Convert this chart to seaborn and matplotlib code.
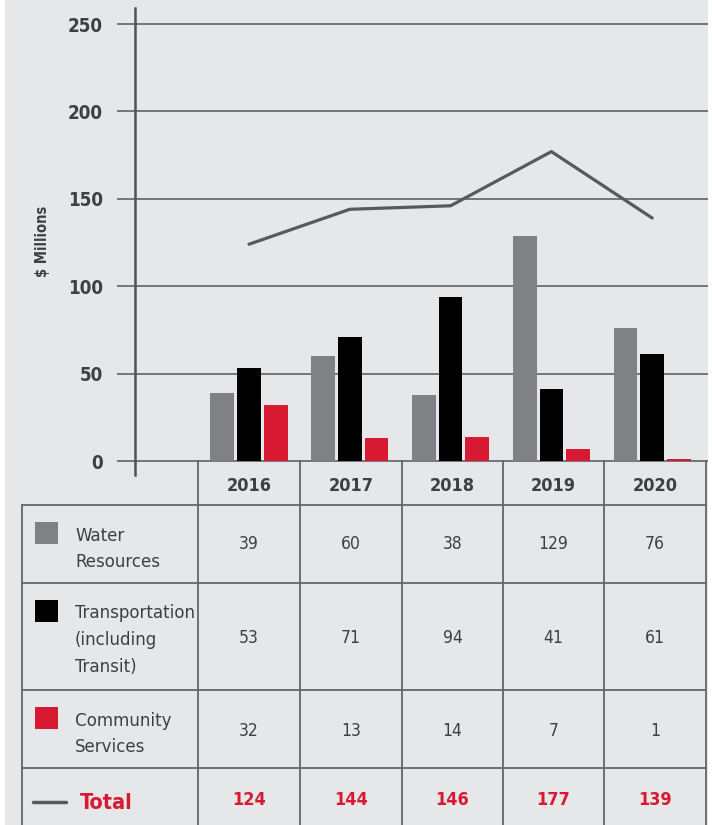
import numpy as np
import pandas as pd
import matplotlib
matplotlib.use("Agg")
import matplotlib.pyplot as plt
from matplotlib.patches import Rectangle
import seaborn as sns

# ---------------- data ----------------
years = ["2016", "2017", "2018", "2019", "2020"]
series = ["Water Resources", "Transportation (including Transit)", "Community Services"]
series_labels = ["Water\nResources", "Transportation\n(including\nTransit)", "Community\nServices"]
water = [39, 60, 38, 129, 76]
transport = [53, 71, 94, 41, 61]
community = [32, 13, 14, 7, 1]
total = [124, 144, 146, 177, 139]
yticks = [0, 50, 100, 150, 200, 250]
colors = ["#808184", "#000000", "#d71a32"]

df = pd.DataFrame({
    "year": years * 3,
    "series": [series[0]] * 5 + [series[1]] * 5 + [series[2]] * 5,
    "value": water + transport + community,
})

# ---------------- style ----------------
sns.set_theme(style="white")
plt.rcParams["font.family"] = ["DejaVu Sans"]
plt.rcParams["font.stretch"] = "condensed"

W, H = 712, 825
fig = plt.figure(figsize=(W / 100, H / 100), dpi=100)
fig.patch.set_facecolor("white")
fig.add_artist(Rectangle((5 / W, 0), 703 / W, 1, transform=fig.transFigure,
                         facecolor="#e6e7e8", edgecolor="none", zorder=-10))

txt = "#3d3f42"
gridc = "#666d73"

# main chart axes
ax_l, ax_r, ax_t, ax_b = 135, 708, 8, 475
ax = fig.add_axes([ax_l / W, 1 - ax_b / H, (ax_r - ax_l) / W, (ax_b - ax_t) / H])
ax.set_facecolor("none")

sns.barplot(data=df, x="year", y="value", hue="series", palette=colors,
            width=0.795, gap=0.11, ax=ax, legend=False, saturation=1,
            linewidth=0, edgecolor="none", zorder=3)
sns.lineplot(x=list(range(len(years))), y=total, color="#58595b", lw=2.3,
             ax=ax, zorder=4)

px0, pxc = 249, 100.8
ax.set_xlim((ax_l - px0) / pxc, (ax_r - px0) / pxc)
ppu = 1.748
ax.set_ylim(-(ax_b - 461) / ppu, (461 - ax_t) / ppu)

xmin = (117 - ax_l) / (ax_r - ax_l)
ax.hlines(yticks, xmin, 1, transform=ax.get_yaxis_transform(), clip_on=False,
          color=gridc, lw=1.3, zorder=1)

for s in ["top", "right", "bottom"]:
    ax.spines[s].set_visible(False)
ax.spines["left"].set_color("#4d5358")
ax.spines["left"].set_linewidth(1.8)
ax.spines["left"].set_zorder(5)

ax.set_xticks([])
ax.set_xlabel("")
ax.set_ylabel("")
ax.set_yticks(yticks)
ax.set_yticklabels([str(v) for v in yticks], fontweight="bold", fontsize=13.5,
                   color=txt)
ax.tick_params(axis="y", length=0, pad=23)

fig.text(43 / W, 1 - 241 / H, r"\$ Millions", rotation=90, ha="center",
         va="center", fontsize=10.5, fontweight="bold", color=txt)

# ---------------- table (pixel overlay) ----------------
tb = fig.add_axes([0, 0, 1, 1], zorder=0.5)
tb.set_facecolor("none")
tb.set_xlim(0, W)
tb.set_ylim(H, 0)
tb.axis("off")

linec = "#5f676d"
vx = [198, 300, 402, 503, 604, 706]
rows_y = [505, 583, 690, 768]
lw = 1.3
for x in vx:
    tb.plot([x, x], [461, H], color=linec, lw=lw)
tb.plot([22, 22], [505, H], color=linec, lw=lw)
for y in rows_y:
    tb.plot([22, 706], [y, y], color=linec, lw=lw)

centers = [(vx[i] + vx[i + 1]) / 2 for i in range(5)]
for c, yr in zip(centers, years):
    tb.text(c, 486, yr, ha="center", va="center", fontsize=13, fontweight="bold",
            color=txt)

row_centers = [544, 638, 731]
swatch_y = [522, 600, 707]
label_y = [549, 640, 734]
for vals, rc, sy, lab, ly, col in zip([water, transport, community], row_centers,
                                      swatch_y, series_labels, label_y, colors):
    tb.add_patch(Rectangle((35, sy), 23, 22, facecolor=col, edgecolor="none"))
    tb.text(75, ly, lab, ha="left", va="center", fontsize=13.3, color=txt,
            linespacing=1.62)
    for c, v in zip(centers, vals):
        tb.text(c, rc, str(v), ha="center", va="center", fontsize=12.5, color=txt)

red = "#d71a32"
tb.plot([33, 66], [802, 802], color="#58595b", lw=2.5)
tb.text(80, 803, "Total", ha="left", va="center", fontsize=15.5,
        fontweight="bold", color=red)
for c, v in zip(centers, total):
    tb.text(c, 800, str(v), ha="center", va="center", fontsize=13,
            fontweight="bold", color=red)

fig.savefig("out.png", dpi=100)
